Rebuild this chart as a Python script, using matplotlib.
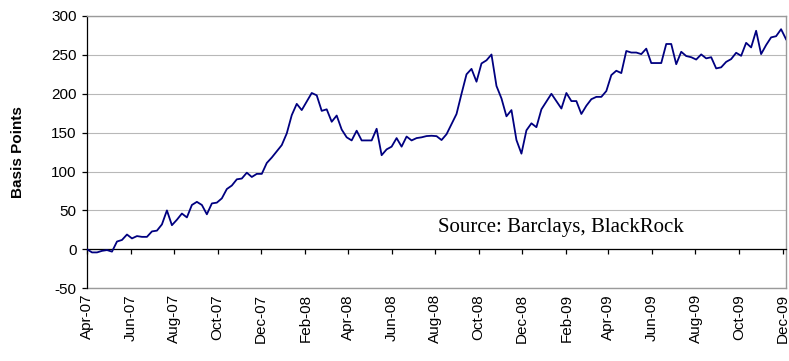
import numpy as np
import pandas as pd
import matplotlib
matplotlib.use('Agg')
from matplotlib import pyplot as plt
from matplotlib import dates
from datetime import datetime, timedelta

plt.rcParams['font.family'] = ['Liberation Sans', 'DejaVu Sans']
plt.rcParams['axes.unicode_minus'] = False

# weekly spread, basis points
bp = [0, -4, -4, -2, -1, -3, 10, 12, 19, 14, 17, 16, 16, 23, 24, 32, 50, 31, 38, 46,
      41, 57, 61, 57, 45, 59, 60, 65.5, 77.5, 82, 90, 91, 98.5, 93, 97, 97, 111, 118,
      126, 134, 149, 172.5, 187, 179, 190, 201, 198, 178,
      180, 164, 172, 154, 144, 140, 152.5, 140, 140, 140, 155, 121, 128.5, 132, 143,
      132, 145, 140, 143, 144, 145.6, 146,
      145.5, 140.5, 148, 161, 174, 200, 225, 232, 215.5, 239, 243, 250.5, 210, 194,
      171, 179, 140.5, 123, 153, 162, 157, 180,
      190, 200, 190.6, 181, 201, 190.6, 190.6, 174, 184.6, 193, 196, 196, 203.5, 224,
      229.6, 226.6, 255, 253, 253, 251, 258, 239.5, 239.5, 239.5,
      264, 264, 238, 254, 248.5, 247, 244, 250.6, 245.5, 247, 232.6, 234, 241, 244.6,
      252.7, 248.8, 265.5, 259.6, 281, 251, 262.6, 272.5, 274, 283, 270]

week_dates = pd.date_range('2007-04-04', periods=len(bp), freq='7D')

tick_labels = ['Apr-07', 'Jun-07', 'Aug-07', 'Oct-07', 'Dec-07', 'Feb-08', 'Apr-08',
               'Jun-08', 'Aug-08', 'Oct-08', 'Dec-08', 'Feb-09', 'Apr-09', 'Jun-09',
               'Aug-09', 'Oct-09', 'Dec-09']
tick_dates = [datetime.strptime(t, '%b-%y') + timedelta(days=3) for t in tick_labels]

y_ticks = np.arange(-50, 301, 50)

grid_col = '#b8b8b8'
border_col = '#9a9a9a'

fig = plt.figure(figsize=(7.89, 3.61), dpi=100)
ax = fig.add_axes([0.1103, 0.2017, 0.886, 0.754])

ax.plot(week_dates, bp, color='#000080', lw=1.3, zorder=3)

ax.set_xlim(week_dates[0], week_dates[-1])
ax.set_ylim(-50, 300)
ax.set_yticks(y_ticks)
ax.grid(axis='y', color=grid_col, lw=0.8)
ax.axhline(-50, color=border_col, lw=1.0, clip_on=False)

# x axis sits on zero, labels pushed below the plot area
ax.spines['bottom'].set_position(('data', 0))
ax.spines['bottom'].set_color('black')
ax.spines['bottom'].set_linewidth(0.9)
ax.spines['left'].set_color('black')
ax.spines['left'].set_linewidth(0.9)
for s in ['top', 'right']:
    ax.spines[s].set_color(border_col)
    ax.spines[s].set_linewidth(1.0)

ax.set_xticks(tick_dates)
ax.set_xticklabels(tick_labels, rotation=90)
ax.tick_params(axis='x', direction='out', length=3.6, width=0.9, pad=28.5, labelsize=11)
ax.tick_params(axis='y', direction='out', length=3.6, width=0.9, pad=4, labelsize=11)

ax.set_ylabel('Basis Points', fontsize=11, fontweight='bold')
ax.yaxis.set_label_coords(-0.089, 0.5)

ax.text(0.502, 0.2065, 'Source: Barclays, BlackRock', transform=ax.transAxes,
        family=['Liberation Serif', 'DejaVu Serif'], fontsize=15, va='baseline')

fig.savefig('out.png', dpi=100)
